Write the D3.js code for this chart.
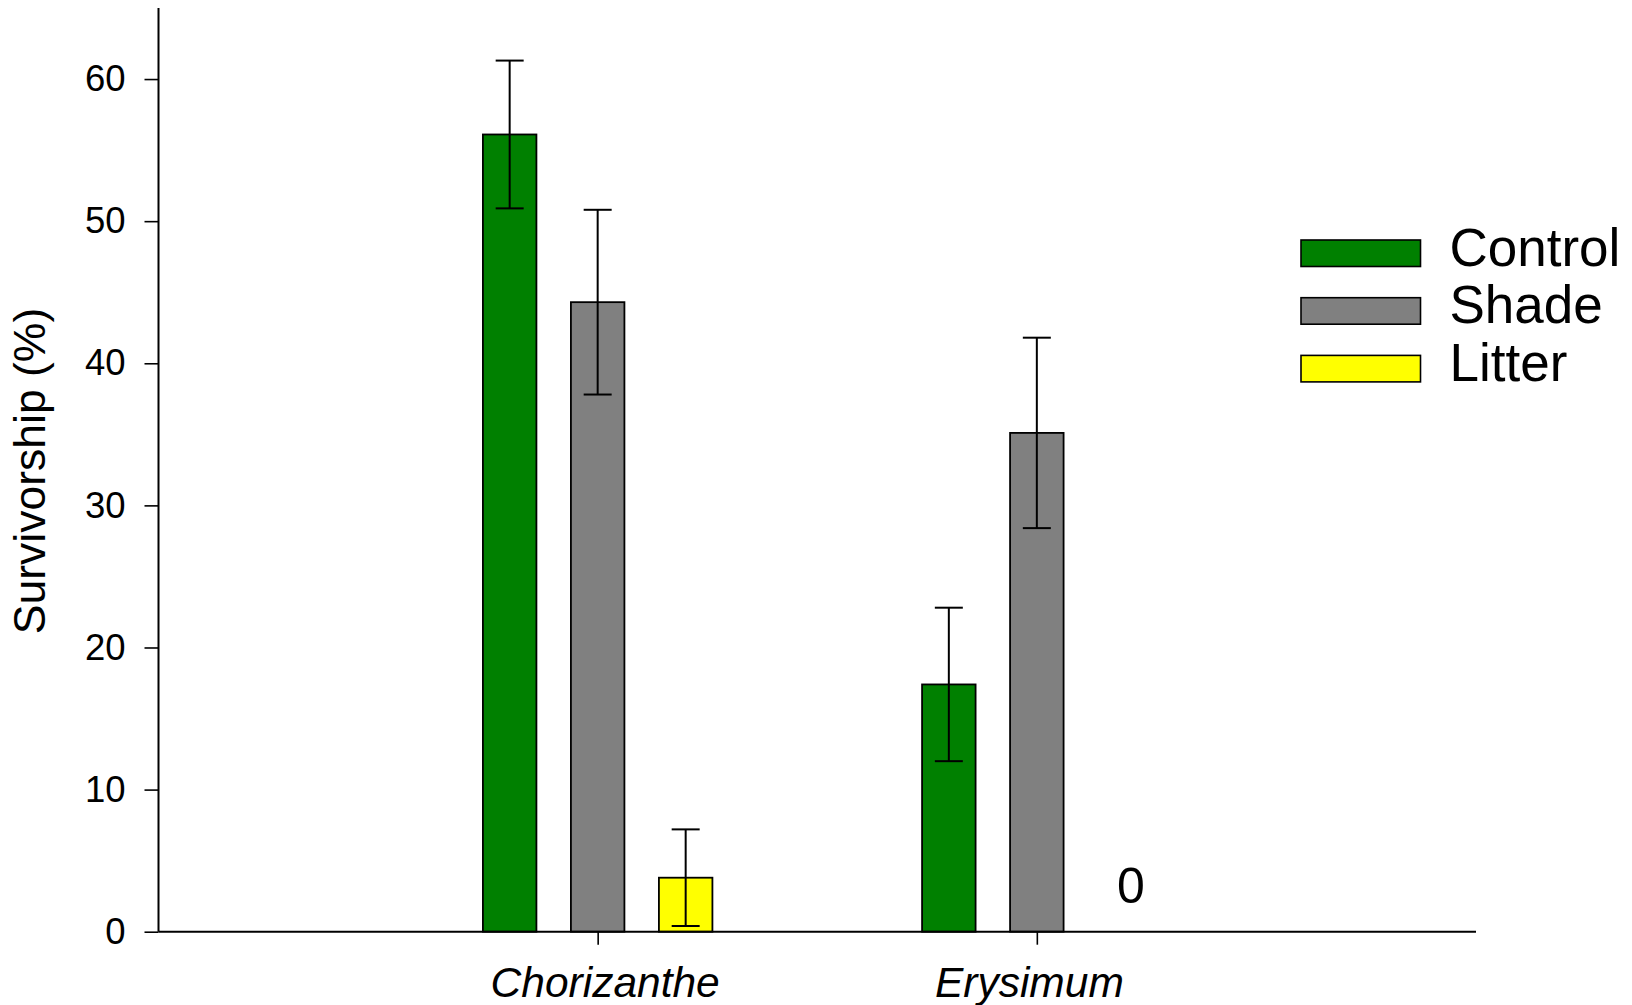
<!DOCTYPE html>
<html>
<head>
<meta charset="utf-8">
<script src="https://cdn.jsdelivr.net/npm/d3@7"></script>
<style>
  html, body { margin: 0; padding: 0; background: #fff; }
  svg { display: block; font-family: "Liberation Sans", Arial, sans-serif; }
</style>
</head>
<body>
<svg id="chart" width="1632" height="1005"></svg>
<script>
// Species groups and treatments
const species = ["Chorizanthe", "Erysimum"];
const treatments = ["Control", "Shade", "Litter"];
const colors = ["#008000", "#808080", "#ffff00"];

// Mean survivorship (%) per treatment, one value per species
const controlMean = [56.1, 17.4];
const shadeMean = [44.3, 35.1];
const litterMean = [3.8, 0];

// Standard errors
const controlSE = [5.2, 5.4];
const shadeSE = [6.5, 6.7];
const litterSE = [3.4, 0];

const yTicks = [0, 10, 20, 30, 40, 50, 60];

const means = [controlMean, shadeMean, litterMean];
const errors = [controlSE, shadeSE, litterSE];

const rows = [];
treatments.forEach((t, ti) => {
  species.forEach((s, si) => {
    rows.push({ species: s, treatment: t, color: colors[ti], mean: means[ti][si], se: errors[ti][si] });
  });
});

const svg = d3.select("#chart");
const plotLeft = 158.5, plotRight = 1476, plotTop = 8, plotBottom = 931.7;

const x = d3.scalePoint().domain(species).range([plotLeft, plotRight]).padding(1);
const xSub = d3.scaleBand().domain(treatments).range([-132, 132]).paddingInner(0.392).paddingOuter(0.196);
const y = d3.scaleLinear().domain([0, 65]).range([plotBottom, plotTop]);

// Bars
svg.append("g").selectAll("rect").data(rows.filter(d => d.mean > 0)).join("rect")
  .attr("x", d => x(d.species) + xSub(d.treatment))
  .attr("y", d => y(d.mean))
  .attr("width", xSub.bandwidth())
  .attr("height", d => y(0) - y(d.mean))
  .attr("fill", d => d.color)
  .attr("stroke", "#000")
  .attr("stroke-width", 1.8);

// Error bars
const capHalf = 14;
const eb = svg.append("g").attr("stroke", "#000").attr("stroke-width", 2)
  .selectAll("g").data(rows.filter(d => d.se > 0)).join("g")
  .attr("transform", d => `translate(${x(d.species) + xSub(d.treatment) + xSub.bandwidth() / 2},0)`);
eb.append("line").attr("x1", 0).attr("x2", 0)
  .attr("y1", d => y(d.mean - d.se)).attr("y2", d => y(d.mean + d.se));
eb.append("line").attr("x1", -capHalf).attr("x2", capHalf)
  .attr("y1", d => y(d.mean + d.se)).attr("y2", d => y(d.mean + d.se));
eb.append("line").attr("x1", -capHalf).attr("x2", capHalf)
  .attr("y1", d => y(d.mean - d.se)).attr("y2", d => y(d.mean - d.se));

// Zero-value annotation
svg.append("g").selectAll("text").data(rows.filter(d => d.mean === 0)).join("text")
  .attr("x", d => x(d.species) + xSub(d.treatment) + xSub.bandwidth() / 2 + 6)
  .attr("y", y(0) - 29)
  .attr("text-anchor", "middle")
  .attr("font-size", 50)
  .text("0");

// Y axis
const yAxis = svg.append("g").attr("transform", `translate(${plotLeft},0)`)
  .call(d3.axisLeft(y).tickValues(yTicks).tickSize(14).tickPadding(19).tickSizeOuter(0));
yAxis.select(".domain").attr("stroke-width", 2).attr("d", `M0,${plotBottom}V${plotTop}`);
yAxis.selectAll(".tick line").attr("stroke-width", 1.6);
yAxis.selectAll(".tick text").attr("font-size", 36.5).attr("font-family", "Liberation Sans, Arial, sans-serif").attr("fill", "#000");

// X axis
const xAxis = svg.append("g").attr("transform", `translate(0,${plotBottom})`)
  .call(d3.axisBottom(x).tickSize(13).tickPadding(22).tickSizeOuter(0));
xAxis.select(".domain").attr("stroke-width", 2).attr("d", `M${plotLeft},0H${plotRight}`);
xAxis.selectAll(".tick line").attr("stroke-width", 1.6);
xAxis.selectAll(".tick text").attr("font-size", 42.5).attr("font-style", "italic")
  .attr("font-family", "Liberation Sans, Arial, sans-serif").attr("fill", "#000")
  .attr("dx", (d, i) => (i === 0 ? 7 : -8));

// Y axis title
svg.append("text")
  .attr("transform", "translate(45,471) rotate(-90)")
  .attr("text-anchor", "middle")
  .attr("font-size", 44.5)
  .text("Survivorship (%)");

// Legend
const legend = svg.append("g").selectAll("g").data(treatments).join("g")
  .attr("transform", (d, i) => `translate(1301,${240 + i * 57.7})`);
legend.append("rect")
  .attr("width", 119.5).attr("height", 26.5)
  .attr("fill", (d, i) => colors[i])
  .attr("stroke", "#000").attr("stroke-width", 1.6);
legend.append("text")
  .attr("x", 148.5).attr("y", 25.5)
  .attr("font-size", 53)
  .text(d => d);
</script>
</body>
</html>
